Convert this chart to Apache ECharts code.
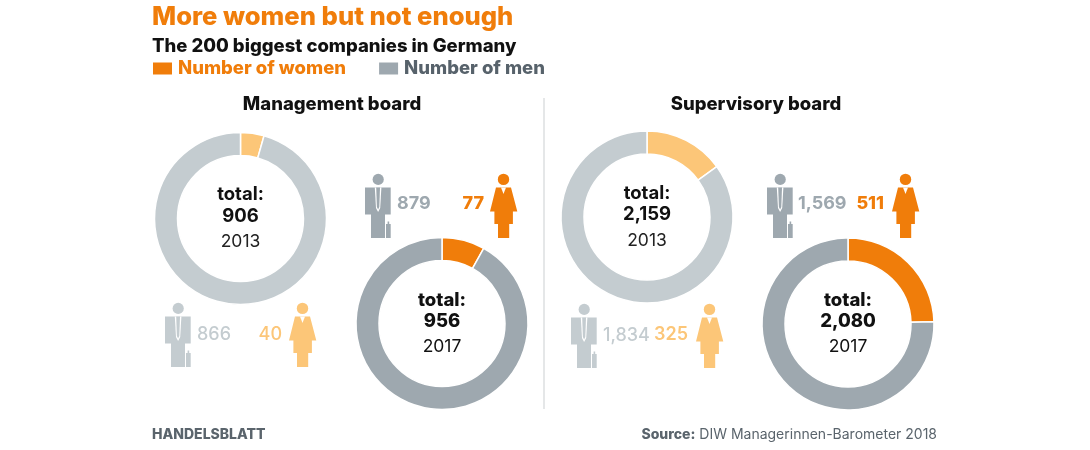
<!DOCTYPE html>
<html>
<head>
    <title>More women but not enough</title>
    <meta charset="utf-8" />
    <script src="https://cdn.jsdelivr.net/npm/echarts@6/dist/echarts.min.js"></script>
    <style type="text/css">
        html, body { width: 100%; height: 100%; margin: 0; background: #fff; }
        #chart { width: 1090px; height: 450px; }
    </style>
</head>
<body>
    <div id="chart"></div>
    <script>
        var years = ['2013', '2017'];
        var seriesNames = ['Number of women', 'Number of men'];
        var mgmtWomen = [40, 77];
        var mgmtMen = [866, 879];
        var mgmtTotal = ['906', '956'];
        var superWomen = [325, 511];
        var superMen = [1834, 1569];
        var superTotal = ['2,159', '2,080'];

        var FONT = 'Inter, "Noto Sans", sans-serif';
        var ORANGE = '#f07d0a', LIGHT_ORANGE = '#fcc678';
        var GREY = '#9ea8af', LIGHT_GREY = '#c4ccd0';

        var chart = echarts.init(document.getElementById('chart'));

        function pie(center, women, men, cw, cm) {
            return {
                type: 'pie',
                center: center,
                radius: [63, 86],
                startAngle: 90,
                silent: true,
                label: { show: false },
                labelLine: { show: false },
                itemStyle: { borderColor: '#fff', borderWidth: 1.5 },
                data: [
                    { name: seriesNames[0], value: women, itemStyle: { color: cw } },
                    { name: seriesNames[1], value: men, itemStyle: { color: cm } }
                ]
            };
        }

        function text(x, y, str, size, weight, color, align) {
            return {
                type: 'text', x: x, y: y, silent: true,
                style: {
                    text: str, fontFamily: FONT, fontSize: size, fontWeight: weight,
                    fill: color, align: align || 'center', verticalAlign: 'middle'
                }
            };
        }

        function poly(points, color) {
            return { type: 'polygon', shape: { points: points }, style: { fill: color } };
        }

        // pictogram of a man, drawn from the top left corner
        function man(x, y, color) {
            return {
                type: 'group', x: x, y: y, silent: true,
                children: [
                    { type: 'circle', shape: { cx: 13.2, cy: 5.4, r: 5.6 }, style: { fill: color } },
                    poly([[0, 13.5], [25.7, 13.5], [25.7, 40.5], [20, 40.5], [20, 64], [6, 64], [6, 40.5], [0, 40.5]], color),
                    poly([[9.8, 13.5], [16.4, 13.5], [15.2, 34], [13.1, 38], [11, 34]], '#fff'),
                    poly([[11.2, 13.5], [15, 13.5], [14.3, 33], [13.1, 35.5], [11.9, 33]], color),
                    poly([[21, 50], [22.6, 50], [22.6, 47.5], [24.2, 47.5], [24.2, 50], [25.7, 50], [25.7, 64], [21, 64]], color)
                ]
            };
        }

        // pictogram of a woman, drawn from the top left corner
        function woman(x, y, color) {
            return {
                type: 'group', x: x, y: y, silent: true,
                children: [
                    { type: 'circle', shape: { cx: 13.5, cy: 5.4, r: 5.7 }, style: { fill: color } },
                    poly([[6, 13.5], [21, 13.5], [27.3, 37.5], [22.9, 37.5], [22.9, 50], [19.2, 50], [19.2, 64], [8, 64], [8, 50], [4.4, 50], [4.4, 37.5], [0, 37.5]], color),
                    poly([[11, 13.5], [16, 13.5], [13.5, 20]], '#fff')
                ]
            };
        }

        var texts = [
            text(152, 17, 'More women but not enough', 25.6, 800, ORANGE, 'left'),
            text(152, 46, 'The 200 biggest companies in Germany', 18.5, 800, '#111', 'left'),
            text(332, 104, 'Management board', 18.5, 800, '#111'),
            text(756, 104, 'Supervisory board', 18.5, 800, '#111'),

            text(240.5, 194, 'total:', 18.5, 700, '#111'),
            text(240.5, 216, mgmtTotal[0], 18.5, 700, '#111'),
            text(240.5, 242, years[0], 17.5, 400, '#222'),
            text(442, 300, 'total:', 18.5, 800, '#111'),
            text(442, 321, mgmtTotal[1], 18.5, 800, '#111'),
            text(442, 347, years[1], 17.5, 400, '#111'),
            text(647, 193, 'total:', 18.5, 700, '#111'),
            text(647, 214, superTotal[0], 18.5, 700, '#111'),
            text(647, 241, years[0], 17.5, 400, '#222'),
            text(848, 300, 'total:', 18.5, 800, '#111'),
            text(848, 321, superTotal[1], 18.5, 800, '#111'),
            text(848, 347, years[1], 17.5, 400, '#111'),

            text(397, 204, String(mgmtMen[1]), 18, 700, GREY, 'left'),
            text(484, 204, String(mgmtWomen[1]), 18, 800, ORANGE, 'right'),
            text(197, 335, String(mgmtMen[0]), 18, 500, LIGHT_GREY, 'left'),
            text(282, 335, String(mgmtWomen[0]), 18, 500, LIGHT_ORANGE, 'right'),
            text(798, 204, '1,569', 18, 700, GREY, 'left'),
            text(884, 204, String(superWomen[1]), 18, 800, ORANGE, 'right'),
            text(603, 336, '1,834', 18, 500, LIGHT_GREY, 'left'),
            text(688, 335, String(superWomen[0]), 18, 600, LIGHT_ORANGE, 'right'),

            text(152, 435, 'HANDELSBLATT', 14, 800, '#5a646c', 'left'),
            {
                type: 'text', x: 937, y: 435, silent: true,
                style: {
                    text: '{b|Source:} DIW Managerinnen-Barometer 2018',
                    rich: { b: { fontFamily: FONT, fontSize: 14, fontWeight: 800, fill: '#5a646c' } },
                    fontFamily: FONT, fontSize: 14, fill: '#5a646c', align: 'right', verticalAlign: 'middle'
                }
            },
            { type: 'line', silent: true, shape: { x1: 544, y1: 98, x2: 544, y2: 409 }, style: { stroke: '#dcdfe1', lineWidth: 1.5 } },

            man(365, 174, GREY), woman(490, 174, ORANGE),
            man(165, 303, LIGHT_GREY), woman(289, 303, LIGHT_ORANGE),
            man(767, 174, GREY), woman(892, 174, ORANGE),
            man(571, 304, LIGHT_GREY), woman(696, 304, LIGHT_ORANGE)
        ];

        chart.setOption({
            animation: false,
            legend: {
                left: 151, top: 59,
                padding: 0,
                itemWidth: 21, itemHeight: 14, itemGap: 31,
                icon: 'rect',
                selectedMode: false,
                textStyle: { fontFamily: FONT, fontSize: 18.5, fontWeight: 800 },
                data: [
                    { name: seriesNames[0], itemStyle: { color: ORANGE }, textStyle: { color: ORANGE } },
                    { name: seriesNames[1], itemStyle: { color: GREY }, textStyle: { color: '#57626b' } }
                ]
            },
            series: [
                pie([240.5, 218.5], mgmtWomen[0], mgmtMen[0], LIGHT_ORANGE, LIGHT_GREY),
                pie([442, 323.5], mgmtWomen[1], mgmtMen[1], ORANGE, GREY),
                pie([647, 217], superWomen[0], superMen[0], LIGHT_ORANGE, LIGHT_GREY),
                pie([848, 324], superWomen[1], superMen[1], ORANGE, GREY)
            ],
            graphic: texts
        });
    </script>
</body>
</html>
